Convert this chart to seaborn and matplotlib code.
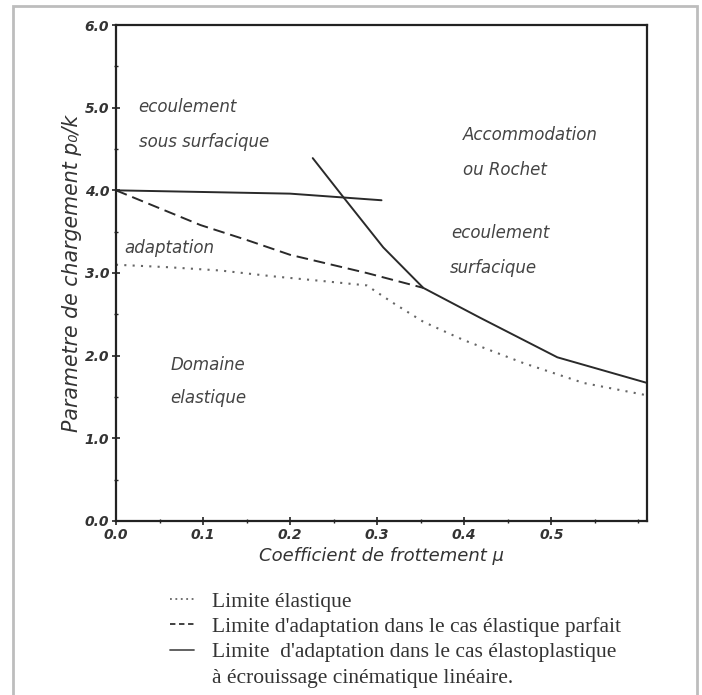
import numpy as np
import pandas as pd
import matplotlib
matplotlib.use('Agg')
import matplotlib.pyplot as plt
from matplotlib.lines import Line2D
from matplotlib.patches import Rectangle
from matplotlib.ticker import MultipleLocator
import seaborn as sns

# données lues sur la figure
# limite élastique (pointillés)
mu_elastique = [0.0, 0.06, 0.12, 0.18, 0.24, 0.288, 0.318, 0.353, 0.399, 0.468, 0.537, 0.61]
p_elastique = [3.10, 3.07, 3.03, 2.96, 2.90, 2.85, 2.64, 2.41, 2.19, 1.91, 1.67, 1.52]
# limite d'adaptation, cas élastique parfait (tirets)
mu_parfait = [0.0, 0.097, 0.15, 0.2, 0.288, 0.353]
p_parfait = [4.00, 3.58, 3.40, 3.22, 3.00, 2.82]
# limite d'adaptation, cas élastoplastique (trait plein, deux branches)
mu_ecoul = [0.0, 0.2, 0.305]
p_ecoul = [4.00, 3.96, 3.88]
mu_rochet = [0.226, 0.261, 0.307, 0.353, 0.418, 0.507, 0.61]
p_rochet = [4.39, 3.92, 3.31, 2.82, 2.46, 1.98, 1.67]

x_ticks = [0.0, 0.1, 0.2, 0.3, 0.4, 0.5]
x_ticklabels = ['0.0', '0.1', '0.2', '0.3', '0.4', '0.5']
y_ticks = [0.0, 1.0, 2.0, 3.0, 4.0, 5.0, 6.0]
y_ticklabels = ['0.0', '1.0', '2.0', '3.0', '4.0', '5.0', '6.0']

legende = ['Limite élastique',
           "Limite d'adaptation dans le cas élastique parfait",
           "Limite  d'adaptation dans le cas élastoplastique",
           'à écrouissage cinématique linéaire.']

zones = ['ecoulement', 'sous surfacique', 'Accommodation', 'ou Rochet',
         'ecoulement', 'surfacique', 'adaptation', 'Domaine', 'elastique']
zones_mu = [0.026, 0.026, 0.399, 0.399, 0.385, 0.384, 0.010, 0.063, 0.062]
zones_p = [5.01, 4.58, 4.67, 4.25, 3.48, 3.06, 3.30, 1.89, 1.49]

# tableau long pour seaborn
df = pd.concat([
    pd.DataFrame({'mu': mu_elastique, 'p': p_elastique, 'courbe': 'elastique', 'branche': 'e'}),
    pd.DataFrame({'mu': mu_parfait, 'p': p_parfait, 'courbe': 'parfait', 'branche': 'p'}),
    pd.DataFrame({'mu': mu_ecoul, 'p': p_ecoul, 'courbe': 'plastique', 'branche': 'a'}),
    pd.DataFrame({'mu': mu_rochet, 'p': p_rochet, 'courbe': 'plastique', 'branche': 'b'}),
], ignore_index=True)

sns.set_style('white')
plt.rcParams['font.family'] = ['DejaVu Sans']

fig = plt.figure(figsize=(7.02, 6.95), dpi=100)
ax = fig.add_axes([0.1652, 0.2504, 0.7565, 0.7136])

styles = {'elastique': (1, 3), 'parfait': (6, 3), 'plastique': ''}
sns.lineplot(data=df, x='mu', y='p', style='courbe', units='branche',
             estimator=None, sort=False, dashes=styles, color='#2a2a2a',
             linewidth=1.4, legend=False, ax=ax)
# le pointillé est plus clair
ax.get_lines()[0].set_color('#666666')
ax.get_lines()[0].set_linewidth(1.5)

ax.set_xlim(0, 0.61)
ax.set_ylim(0, 6.0)
ax.set_xticks(x_ticks)
ax.set_xticklabels(x_ticklabels)
ax.set_yticks(y_ticks)
ax.set_yticklabels(y_ticklabels)
ax.xaxis.set_minor_locator(MultipleLocator(0.05))
ax.yaxis.set_minor_locator(MultipleLocator(0.5))
ax.tick_params(which='major', direction='inout', length=6, width=1.2, color='#222222',
               labelsize=10, pad=2)
ax.tick_params(which='minor', direction='inout', length=3, width=1.0, color='#222222')
ax.tick_params(axis='both', which='both', bottom=True, left=True)
for lab in ax.get_xticklabels() + ax.get_yticklabels():
    lab.set_fontstyle('italic')
    lab.set_fontweight('bold')
    lab.set_color('#333333')
for s in ax.spines.values():
    s.set_visible(True)
    s.set_linewidth(1.6)
    s.set_color('#222222')

ax.set_xlabel('Coefficient de frottement μ', fontsize=13, fontstyle='italic',
              color='#333333', labelpad=4)
ax.set_ylabel('Parametre de chargement p₀/k', fontsize=14.8, fontstyle='italic',
              color='#333333', labelpad=1.5)

for txt, mx, py in zip(zones, zones_mu, zones_p):
    ax.text(mx, py, txt, fontsize=12, fontstyle='italic', color='#444444',
            ha='left', va='center')

# légende sous le graphique
handles = [Line2D([], [], color='#666666', lw=1.3, dashes=(1, 2)),
           Line2D([], [], color='#333333', lw=1.3, dashes=(3, 2)),
           Line2D([], [], color='#555555', lw=1.3),
           Line2D([], [], color='none')]
fig.legend(handles, legende, loc='upper left', bbox_to_anchor=(0.242, 0.149),
           frameon=False, borderpad=0, borderaxespad=0, handlelength=1.1,
           handletextpad=0.85, labelspacing=0.25,
           prop={'family': 'Liberation Serif', 'size': 15.5}, labelcolor='#333333')

# cadre gris autour de la figure
fig.add_artist(Rectangle((0.0185, -0.02), 0.974, 1.0114, transform=fig.transFigure,
                         fill=False, edgecolor='#bdbdbd', linewidth=2))

fig.savefig('out.png', dpi=100, facecolor='white')
